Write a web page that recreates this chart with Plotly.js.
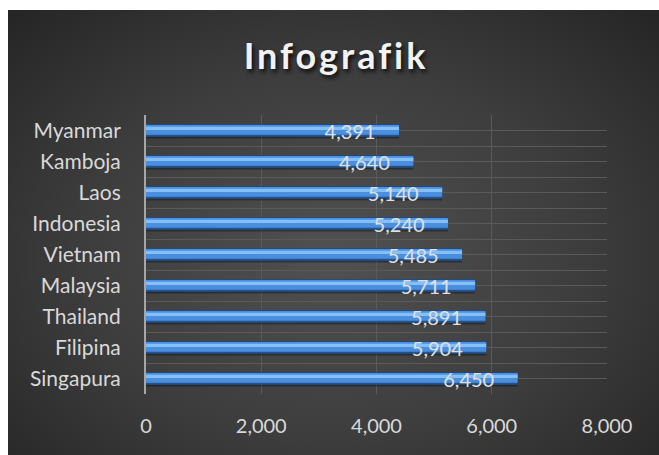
<!DOCTYPE html>
<html><head><meta charset="utf-8">
<script src="https://cdn.plot.ly/plotly-3.0.1.min.js"></script>
<style>
html,body{margin:0;padding:0;background:#fff;}
#wrap{position:relative;width:659px;height:455px;overflow:hidden;}
#bg{position:absolute;left:8px;top:10px;width:651px;height:445px;
 background:radial-gradient(ellipse 70% 75% at 50% 55%, #515151 0%, #3d3d3d 55%, #262626 100%);}
#chart{position:absolute;left:0;top:0;width:659px;height:455px;}
.gtitle{letter-spacing:3px;}
</style></head>
<body>
<div id="wrap"><div id="bg"></div><div id="chart"></div></div>
<script>
const categories = ["Singapura","Filipina","Thailand","Malaysia","Vietnam","Indonesia","Laos","Kamboja","Myanmar"];
const values = [6450,5904,5891,5711,5485,5240,5140,4640,4391];
const xTicks = [0,2000,4000,6000,8000];
const xTickLabels = ["0","2,000","4,000","6,000","8,000"];

const common = {type:'bar', orientation:'h', y:categories, x:values, hoverinfo:'skip', showlegend:false};
const traces = [
  Object.assign({}, common, {width:0.46, offset:-0.26, marker:{color:'rgba(0,0,0,0.35)'}}),
  Object.assign({}, common, {width:0.40, offset:-0.20, marker:{color:'#23538f'}}),
  Object.assign({}, common, {width:0.32, offset:-0.14, marker:{color:'#4a8ee0'}}),
  Object.assign({}, common, {width:0.10, offset:0.02, marker:{color:'#84bff5'}}),
  Object.assign({}, common, {width:0.40, offset:-0.20, marker:{color:'rgba(0,0,0,0)'},
    texttemplate:'%{x:,}\u00a0\u00a0\u00a0\u00a0', textposition:'inside', insidetextanchor:'end',
    constraintext:'none', textangle:0,
    insidetextfont:{family:'Lato, sans-serif', size:20, color:'#e0e0e0'}})
];

const shapes = categories.map(c => ({type:'line', xref:'paper', yref:'y', x0:0, x1:1, y0:c, y1:c,
  line:{color:'#5a5a5a', width:1}, layer:'below'}));

const layout = {
  width:659, height:455,
  paper_bgcolor:'rgba(0,0,0,0)', plot_bgcolor:'rgba(0,0,0,0)',
  margin:{l:146, r:52, t:115, b:61},
  barmode:'overlay',
  title:{text:'Infografik', x:0.51, xanchor:'center', y:0.877, yanchor:'middle',
    font:{family:'Lato, sans-serif', size:36, weight:700, color:'#f2f2f2', shadow:'2px 3px 4px rgba(0,0,0,0.8)'}},
  xaxis:{range:[0,8000], tickvals:xTicks, ticktext:xTickLabels, showgrid:true, gridcolor:'#5a5a5a', gridwidth:1,
    zeroline:false, showline:false, ticks:'', ticklen:0, ticklabelstandoff:18,
    tickfont:{family:'Lato, sans-serif', size:20, color:'#d9d9d9'}, fixedrange:true},
  yaxis:{type:'category', categoryorder:'array', categoryarray:categories, tickson:'boundaries',
    showgrid:true, gridcolor:'#5a5a5a', gridwidth:1, showline:true, linecolor:'#a6a6a6', linewidth:2,
    ticks:'', ticklabelstandoff:19,
    tickfont:{family:'Lato, sans-serif', size:21, color:'#d9d9d9'}, fixedrange:true},
  shapes:shapes
};
Plotly.newPlot('chart', traces, layout, {displayModeBar:false, staticPlot:true});
</script>
</body></html>
